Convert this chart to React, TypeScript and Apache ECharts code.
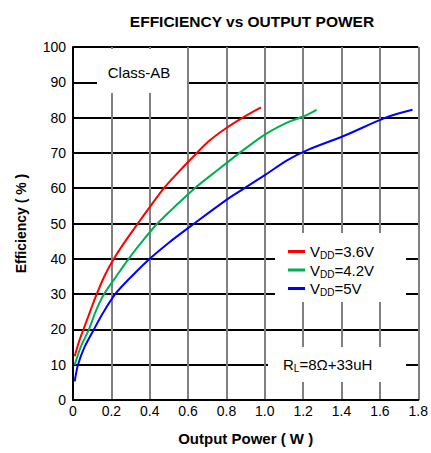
import React, { useEffect, useRef } from "react";
import * as echarts from "echarts";

const seriesNames = ["VDD=3.6V", "VDD=4.2V", "VDD=5V"];
const seriesColors = ["#ff0000", "#00b050", "#0000ff"];

const red36: [number, number][] = [
  [0.009, 12.4], [0.03, 16.3], [0.06, 20.8], [0.09, 25.2], [0.12, 29.5], [0.163, 35],
  [0.213, 40], [0.273, 45], [0.338, 50], [0.405, 55], [0.474, 60], [0.54, 64],
  [0.61, 68], [0.706, 73.2], [0.79, 76.7], [0.885, 80], [0.98, 82.9],
];
const green42: [number, number][] = [
  [0.009, 10], [0.04, 15], [0.083, 20], [0.12, 25.3], [0.162, 30], [0.225, 35],
  [0.29, 40], [0.362, 45], [0.44, 50], [0.535, 55], [0.635, 60], [0.715, 63.5],
  [0.8, 67.1], [0.868, 70], [1.0, 75.2], [1.116, 78.6], [1.2, 80.3], [1.27, 82.2],
];
const blue5: [number, number][] = [
  [0.009, 5.3], [0.026, 10], [0.06, 15], [0.109, 20], [0.16, 25], [0.22, 30],
  [0.305, 35], [0.4, 40], [0.498, 44.5], [0.632, 50], [0.8, 56.7], [0.894, 60],
  [1.0, 63.7], [1.116, 67.9], [1.23, 71], [1.42, 75], [1.63, 80], [1.77, 82.2],
];
const seriesData = [red36, green42, blue5];

const xMin = 0, xMax = 1.8, xStep = 0.2;
const yMin = 0, yMax = 100, yStep = 10;

const FONT = "'Liberation Sans', Arial, sans-serif";

export default function App() {
  const ref = useRef<HTMLDivElement>(null);
  useEffect(() => {
    if (!ref.current) return;
    const chart = echarts.init(ref.current, undefined, { renderer: "svg" });
    chart.setOption({
      animation: false,
      backgroundColor: "#fff",
      textStyle: { fontFamily: FONT },
      title: {
        text: "EFFICIENCY vs OUTPUT POWER",
        left: 247,
        textAlign: "center",
        top: 8,
        textStyle: { fontSize: 15.5, fontWeight: "bold", color: "#000", fontFamily: FONT },
      },
      grid: { left: 73, right: 10, top: 47, bottom: 53, containLabel: false },
      xAxis: {
        type: "value",
        min: xMin,
        max: xMax,
        interval: xStep,
        name: "Output Power ( W )",
        nameLocation: "middle",
        nameGap: 31,
        nameTextStyle: { fontSize: 15, fontWeight: "bold", color: "#000", fontFamily: FONT },
        axisLine: { show: true, onZero: false, lineStyle: { color: "#000", width: 2 } },
        axisTick: { show: false },
        axisLabel: {
          fontSize: 14,
          color: "#000",
          margin: 4,
          fontFamily: FONT,
          formatter: (v: number) => (v === 0 ? "0" : v.toFixed(1)),
        },
        splitLine: { show: true, lineStyle: { color: "#808080", width: 2 } },
      },
      yAxis: {
        type: "value",
        min: yMin,
        max: yMax,
        interval: yStep,
        name: "Efficiency ( % )",
        nameLocation: "middle",
        nameGap: 45,
        nameTextStyle: { fontSize: 14, fontWeight: "bold", color: "#000", fontFamily: FONT },
        axisLine: { show: true, lineStyle: { color: "#000", width: 2 } },
        axisTick: { show: false },
        axisLabel: { fontSize: 14, color: "#000", margin: 7, fontFamily: FONT },
        splitLine: { show: true, lineStyle: { color: "#000", width: 2 } },
      },
      graphic: [
        { type: "rect", z: 10, shape: { x: 97, y: 49, width: 90, height: 44 }, style: { fill: "#fff" } },
        { type: "rect", z: 10, shape: { x: 275, y: 233, width: 131, height: 69 }, style: { fill: "#fff" } },
        { type: "rect", z: 10, shape: { x: 268, y: 347, width: 138, height: 35 }, style: { fill: "#fff" } },
        {
          type: "text",
          z: 11,
          x: 139,
          y: 72,
          style: {
            text: "Class-AB",
            fontSize: 15,
            fontFamily: FONT,
            fill: "#000",
            align: "center",
            verticalAlign: "middle",
          },
        },
        {
          type: "text",
          z: 11,
          x: 283,
          y: 364,
          style: {
            text: "{v|R}{s|L}{v|=8Ω+33uH}",
            fontFamily: FONT,
            fill: "#000",
            verticalAlign: "middle",
            rich: {
              v: { fontSize: 15, fontFamily: FONT, lineHeight: 18, verticalAlign: "middle" },
              s: { fontSize: 10, fontFamily: FONT, lineHeight: 18, verticalAlign: "bottom" },
            },
          },
        },
      ],
      legend: {
        show: true,
        orient: "vertical",
        left: 283,
        top: 239,
        z: 20,
        itemWidth: 17,
        itemHeight: 3,
        itemGap: 2,
        icon: "rect",
        data: seriesNames,
        formatter: (name: string) => `{v|V}{s|DD}{v|=${name.split("=")[1]}}`,
        textStyle: {
          fontFamily: FONT,
          color: "#000",
          rich: {
            v: { fontSize: 15, fontFamily: FONT, lineHeight: 18, verticalAlign: "middle" },
            s: { fontSize: 10, fontFamily: FONT, lineHeight: 18, verticalAlign: "bottom" },
          },
        },
      },
      series: seriesNames.map((n, i) => ({
        name: n,
        type: "line",
        data: seriesData[i],
        smooth: 0.3,
        showSymbol: false,
        symbol: "none",
        z: 15,
        color: seriesColors[i],
        lineStyle: { color: seriesColors[i], width: 2 },
      })),
    });
    return () => chart.dispose();
  }, []);
  return <div ref={ref} style={{ width: 431, height: 453, position: "absolute", left: 0, top: 0 }} />;
}
